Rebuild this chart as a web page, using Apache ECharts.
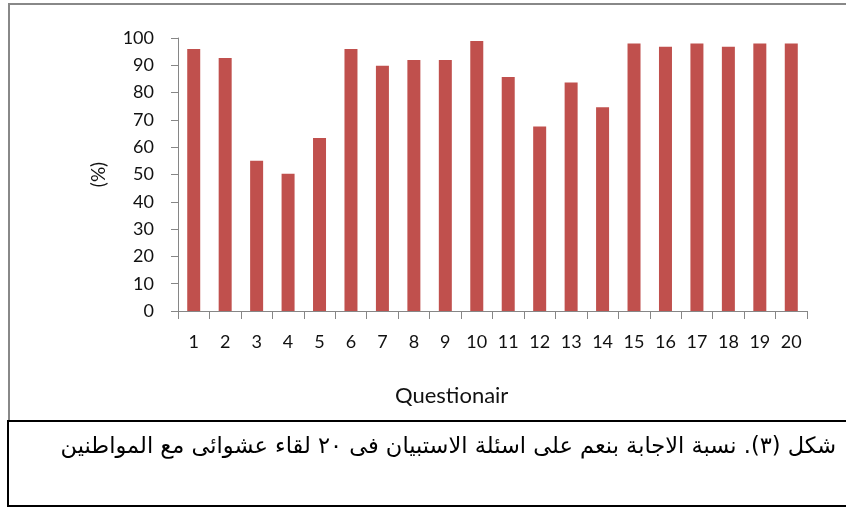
<!DOCTYPE html>
<html><head><meta charset="utf-8">
<script src="https://cdn.jsdelivr.net/npm/echarts@6/dist/echarts.min.js"></script>
<style>html,body{margin:0;padding:0;background:#fff}#c{width:846px;height:508px}</style>
</head><body><div id="c"></div>
<script>
const categories = ['1','2','3','4','5','6','7','8','9','10','11','12','13','14','15','16','17','18','19','20'];
const values = [96, 92.7, 55, 50.3, 63.4, 96, 89.8, 91.9, 91.9, 98.9, 85.7, 67.6, 83.7, 74.6, 98, 96.8, 98, 96.8, 98, 98];
const yTicks = [0, 10, 20, 30, 40, 50, 60, 70, 80, 90, 100];
const yName = '(%)';
const xName = 'Questionair';
const caption = 'شكل (٣). نسبة الاجابة بنعم على اسئلة الاستبيان فى ٢٠ لقاء عشوائى مع المواطنين';

const chart = echarts.init(document.getElementById('c'), null, {renderer: 'canvas'});
const axisCol = '#868686';
const font = 'Lato, Calibri, sans-serif';
chart.setOption({
  animation: false,
  grid: {left: 178, right: 39, top: 38, bottom: 197, containLabel: false},
  xAxis: {
    type: 'category', data: categories,
    axisLine: {lineStyle: {color: axisCol, width: 1}},
    axisTick: {show: true, length: 8, lineStyle: {color: axisCol}},
    axisLabel: {color: '#111', fontFamily: font, fontSize: 18, margin: 22},
  },
  yAxis: {
    type: 'value', min: yTicks[0], max: yTicks[yTicks.length - 1], interval: 10,
    name: yName, nameLocation: 'middle', nameGap: 70, nameRotate: 90,
    nameTextStyle: {color: '#111', fontFamily: font, fontSize: 19},
    axisLine: {show: true, lineStyle: {color: axisCol, width: 1}},
    axisTick: {show: true, length: 7, lineStyle: {color: axisCol}},
    axisLabel: {color: '#111', fontFamily: font, fontSize: 18, margin: 24},
    splitLine: {show: false}
  },
  series: [{
    type: 'bar', data: values, barWidth: 13,
    itemStyle: {color: '#C0504D'}
  }],
  graphic: [
    {type: 'line', shape: {x1: 8, y1: 4, x2: 846, y2: 4}, style: {stroke: '#888', lineWidth: 2}},
    {type: 'line', shape: {x1: 9, y1: 3, x2: 9, y2: 421}, style: {stroke: '#888', lineWidth: 2}},
    {type: 'text', left: 395, top: 385, style: {text: xName, fontFamily: font, fontSize: 22, fill: '#111'}},
    {type: 'rect', shape: {x: 8, y: 421, width: 850, height: 85}, style: {fill: 'none', stroke: '#000', lineWidth: 2}},
    {type: 'text', right: 10, top: 436, style: {text: caption, fontFamily: 'DejaVu Sans, "Noto Sans", sans-serif', fontSize: 22.5, fill: '#000', textAlign: 'right'}}
  ]
});
</script></body></html>
